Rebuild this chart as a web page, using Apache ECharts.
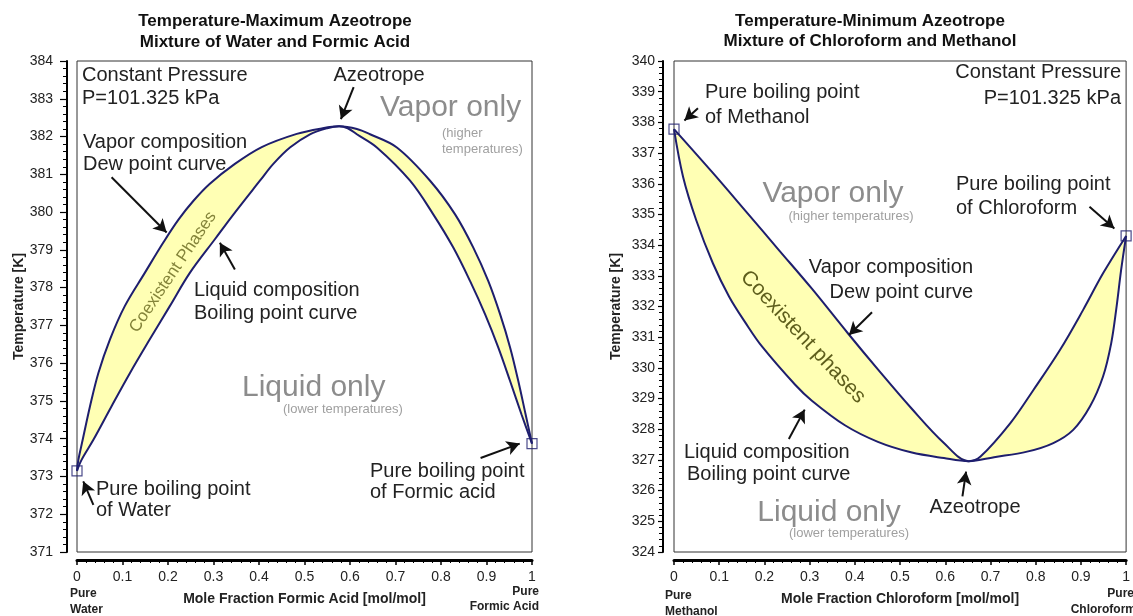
<!DOCTYPE html>
<html>
<head>
<meta charset="utf-8">
<script src="https://cdn.jsdelivr.net/npm/echarts@6/dist/echarts.min.js"></script>
<style>html,body{margin:0;padding:0;background:#fff}#c{width:1133px;height:616px}</style>
</head>
<body>
<div id="c"></div>
<script>
// ---------- tick labels ----------
const xTickLabels = ['0','0.1','0.2','0.3','0.4','0.5','0.6','0.7','0.8','0.9','1'];
const leftYTickLabels = ['371','372','373','374','375','376','377','378','379','380','381','382','383','384'];
const rightYTickLabels = ['324','325','326','327','328','329','330','331','332','333','334','335','336','337','338','339','340'];

// ---------- Water / Formic acid (maximum azeotrope) ----------
const wfDewX = [0, 0.003, 0.0125, 0.0286, 0.047, 0.0725, 0.105, 0.149, 0.19, 0.223, 0.256, 0.292, 0.344, 0.406, 0.483, 0.540, 0.576,
                0.615, 0.644, 0.703, 0.776, 0.831, 0.871, 0.904, 0.930, 0.952, 0.970, 0.986, 1];
const wfDewT = [373.15, 373.44, 373.97, 374.86, 375.74, 376.63, 377.51, 378.39, 379.2, 379.8, 380.3, 380.75, 381.25, 381.72, 382.07, 382.22, 382.27,
                382.20, 382.06, 381.71, 380.83, 379.94, 379.06, 378.17, 377.29, 376.41, 375.52, 374.64, 373.87];
const wfBubX = [0, 0.010, 0.036, 0.076, 0.1165, 0.160, 0.204, 0.248, 0.303, 0.344, 0.402, 0.431, 0.468, 0.512, 0.550, 0.576,
                0.595, 0.615, 0.659, 0.732, 0.783, 0.827, 0.864, 0.897, 0.926, 0.952, 0.977, 1];
const wfBubT = [373.15, 373.44, 373.97, 374.86, 375.74, 376.63, 377.51, 378.39, 379.28, 379.94, 380.83, 381.27, 381.71, 382.06, 382.22, 382.27,
                382.22, 382.06, 381.71, 380.83, 379.94, 379.06, 378.17, 377.29, 376.41, 375.52, 374.64, 373.87];
const wfPureX = [0, 1];
const wfPureT = [373.15, 373.87];

// ---------- Chloroform / Methanol (minimum azeotrope) ----------
const cmDewX = [0, 0.0855, 0.159, 0.232, 0.305, 0.385, 0.451, 0.524, 0.597, 0.652,
                0.678, 0.744, 0.795, 0.854, 0.905, 0.949, 1];
const cmDewT = [337.78, 336.36, 335.10, 333.84, 332.58, 331.12, 329.95, 328.70, 327.55, 326.96,
                327.11, 328.20, 329.28, 330.59, 331.89, 333.08, 334.30];
const cmBubX = [0, 0.020, 0.049, 0.086, 0.122, 0.159, 0.195, 0.268, 0.305, 0.378, 0.451, 0.524, 0.597, 0.652,
                0.708, 0.781, 0.839, 0.883, 0.920, 0.949, 0.967, 0.978, 0.989, 1];
const cmBubT = [337.78, 336.23, 334.82, 333.41, 332.32, 331.45, 330.69, 329.45, 328.93, 328.13, 327.59, 327.25, 327.06, 326.96,
                327.09, 327.27, 327.55, 327.98, 328.74, 329.72, 330.80, 331.89, 333.19, 334.30];
const cmPureX = [0, 1];
const cmPureT = [337.78, 334.30];

// ---------- helpers ----------
const FONT = "'Liberation Sans', Arial, sans-serif";
const NAVY = '#1e1e6e';
const SMOOTH = 0.35;
const zip = (a, b) => a.map((v, i) => [v, b[i]]);

function bandSeries(gi, dx, dt, bx, bt) {
  return {
    type: 'custom', xAxisIndex: gi, yAxisIndex: gi, silent: true, z: 1,
    data: [[dx[0], dt[0]]],
    renderItem: function (params, api) {
      const pts = [];
      for (let i = 0; i < dx.length; i++) pts.push(api.coord([dx[i], dt[i]]));
      for (let i = bx.length - 1; i >= 0; i--) pts.push(api.coord([bx[i], bt[i]]));
      return { type: 'polygon', shape: { points: pts, smooth: SMOOTH }, style: { fill: '#ffffb4', stroke: null } };
    }
  };
}
function curve(gi, xs, ts, arrows) {
  const s = {
    type: 'line', xAxisIndex: gi, yAxisIndex: gi, data: zip(xs, ts), symbol: 'none', silent: true, z: 3,
    smooth: SMOOTH, lineStyle: { color: NAVY, width: 2 }
  };
  if (arrows) {
    s.markLine = {
      silent: true, symbol: ['none', 'arrow'], symbolSize: [11, 13], animation: false,
      label: { show: false }, lineStyle: { color: '#111', width: 2, type: 'solid' },
      data: arrows.map(a => [{ coord: [a[0], a[1]] }, { coord: [a[2], a[3]] }])
    };
  }
  return s;
}
function pure(gi, xs, ts) {
  return {
    type: 'scatter', xAxisIndex: gi, yAxisIndex: gi, data: zip(xs, ts), symbol: 'rect', symbolSize: 10, z: 4, silent: true,
    itemStyle: { color: 'rgba(255,255,255,0)', borderColor: NAVY, borderWidth: 1.2 }
  };
}
function xAxisCfg(gi, name) {
  return {
    gridIndex: gi, type: 'value', min: 0, max: 1, interval: 0.1, offset: 8,
    axisLine: { show: true, onZero: false, lineStyle: { color: '#000', width: 3 } },
    axisTick: { show: true, length: 5, lineStyle: { color: '#000', width: 1.5 } },
    minorTick: { show: true, splitNumber: 5, length: 3, lineStyle: { color: '#000', width: 1 } },
    splitLine: { show: false },
    axisLabel: { fontSize: 14, color: '#222', margin: 10, fontFamily: FONT,
      formatter: v => xTickLabels[Math.round(v * 10)] },
    name: name, nameLocation: 'middle', nameGap: 32,
    nameTextStyle: { fontSize: 14, fontWeight: 'bold', color: '#222', fontFamily: FONT }
  };
}
function yAxisCfg(gi, min, max, labels, offset, margin, tickLen) {
  return {
    gridIndex: gi, type: 'value', min: min, max: max, interval: 1, offset: offset,
    axisLine: { show: true, onZero: false, lineStyle: { color: '#000', width: 2 } },
    axisTick: { show: true, length: tickLen, lineStyle: { color: '#000', width: 1.2 } },
    minorTick: { show: true, splitNumber: 5, length: 4, lineStyle: { color: '#000', width: 1 } },
    splitLine: { show: false },
    axisLabel: { fontSize: 14, color: '#222', margin: margin, fontFamily: FONT,
      formatter: v => labels[Math.round(v - min)] },
    name: 'Temperature [K]', nameLocation: 'middle', nameGap: 40,
    nameTextStyle: { fontSize: 14, fontWeight: 'bold', color: '#222', fontFamily: FONT }
  };
}
function txt(x, y, s, o) {
  o = o || {};
  return {
    type: 'text', x: x, y: y, rotation: o.rot || 0, silent: true, z: 10,
    style: {
      text: s, fill: o.color || '#222', font: (o.weight || 'normal') + ' ' + (o.size || 20) + 'px ' + FONT,
      textAlign: o.align || 'left', textVerticalAlign: 'middle'
    }
  };
}

const gray = { size: 30, color: '#8c8c8c' };
const sub = { size: 13, color: '#a0a0a0' };
const titleS = { size: 17, weight: 'bold', align: 'center', color: '#111' };
const pureS = { size: 12, weight: 'bold', color: '#222' };

const graphics = [
  // left chart
  txt(275, 21, 'Temperature-Maximum Azeotrope', titleS),
  txt(275, 42, 'Mixture of Water and Formic Acid', titleS),
  txt(82, 75, 'Constant Pressure'),
  txt(82, 98, 'P=101.325 kPa'),
  txt(379, 75, 'Azeotrope', { align: 'center' }),
  txt(380, 108, 'Vapor only', gray),
  txt(442, 133, '(higher', sub),
  txt(442, 149, 'temperatures)', sub),
  txt(83, 142, 'Vapor composition'),
  txt(83, 164, 'Dew point curve'),
  txt(173, 272, 'Coexistent Phases', { size: 17, color: '#84843a', align: 'center', rot: 56 * Math.PI / 180 }),
  txt(194, 290, 'Liquid composition'),
  txt(194, 313, 'Boiling point curve'),
  txt(242, 388, 'Liquid only', gray),
  txt(283, 409, '(lower temperatures)', sub),
  txt(96, 489, 'Pure boiling point'),
  txt(96, 510, 'of Water'),
  txt(370, 471, 'Pure boiling point'),
  txt(370, 492, 'of Formic acid'),
  txt(70, 594, 'Pure', pureS),
  txt(70, 610, 'Water', pureS),
  txt(539, 592, 'Pure', Object.assign({ align: 'right' }, pureS)),
  txt(539, 607, 'Formic Acid', Object.assign({ align: 'right' }, pureS)),
  // right chart
  txt(870, 21, 'Temperature-Minimum Azeotrope', titleS),
  txt(870, 41, 'Mixture of Chloroform and Methanol', titleS),
  txt(705, 92, 'Pure boiling point'),
  txt(705, 117, 'of Methanol'),
  txt(1121, 72, 'Constant Pressure', { align: 'right' }),
  txt(1121, 98, 'P=101.325 kPa', { align: 'right' }),
  txt(833, 194, 'Vapor only', Object.assign({ align: 'center' }, gray)),
  txt(851, 216, '(higher temperatures)', Object.assign({ align: 'center' }, sub)),
  txt(956, 184, 'Pure boiling point'),
  txt(956, 208, 'of Chloroform'),
  txt(973, 267, 'Vapor composition', { align: 'right' }),
  txt(973, 292, 'Dew point curve', { align: 'right' }),
  txt(803, 337, 'Coexistent phases', { size: 21, color: '#5e5e1c', align: 'center', rot: -47 * Math.PI / 180 }),
  txt(684, 452, 'Liquid composition'),
  txt(687, 474, 'Boiling point curve'),
  txt(829, 513, 'Liquid only', Object.assign({ align: 'center' }, gray)),
  txt(849, 533, '(lower temperatures)', Object.assign({ align: 'center' }, sub)),
  txt(975, 507, 'Azeotrope', { align: 'center' }),
  txt(665, 596, 'Pure', pureS),
  txt(665, 612, 'Methanol', pureS),
  txt(1134, 594, 'Pure', Object.assign({ align: 'right' }, pureS)),
  txt(1136, 610, 'Chloroform', Object.assign({ align: 'right' }, pureS))
];

const option = {
  animation: false,
  backgroundColor: '#fff',
  textStyle: { fontFamily: FONT },
  grid: [
    { left: 77, top: 61, right: 601, bottom: 64, show: true, borderColor: '#333', borderWidth: 1, backgroundColor: 'transparent' },
    { left: 674, top: 61, right: 4, bottom: 64, show: true, borderColor: '#333', borderWidth: 1, backgroundColor: 'transparent' }
  ],
  xAxis: [
    xAxisCfg(0, 'Mole Fraction Formic Acid [mol/mol]'),
    xAxisCfg(1, 'Mole Fraction Chloroform [mol/mol]')
  ],
  yAxis: [
    yAxisCfg(0, 371, 384, leftYTickLabels, 10, 14, 7),
    yAxisCfg(1, 324, 340, rightYTickLabels, 11, 8, 5)
  ],
  series: [
    bandSeries(0, wfDewX, wfDewT, wfBubX, wfBubT),
    curve(0, wfDewX, wfDewT, [
      [0.608, 383.31, 0.580, 382.46],
      [0.076, 380.92, 0.197, 379.46],
      [0.347, 378.48, 0.314, 379.19],
      [0.036, 372.25, 0.0137, 372.87],
      [0.887, 373.49, 0.973, 373.87]
    ]),
    curve(0, wfBubX, wfBubT),
    pure(0, wfPureX, wfPureT),
    bandSeries(1, cmDewX, cmDewT, cmBubX, cmBubT),
    curve(1, cmDewX, cmDewT, [
      [0.053, 338.46, 0.023, 338.06],
      [0.919, 335.25, 0.974, 334.54],
      [0.438, 331.81, 0.387, 331.07],
      [0.254, 327.68, 0.289, 328.64],
      [0.638, 325.81, 0.646, 326.62]
    ]),
    curve(1, cmBubX, cmBubT),
    pure(1, cmPureX, cmPureT)
  ],
  graphic: graphics
};

const chart = echarts.init(document.getElementById('c'), null, { renderer: 'canvas' });
chart.setOption(option);
</script>
</body>
</html>
